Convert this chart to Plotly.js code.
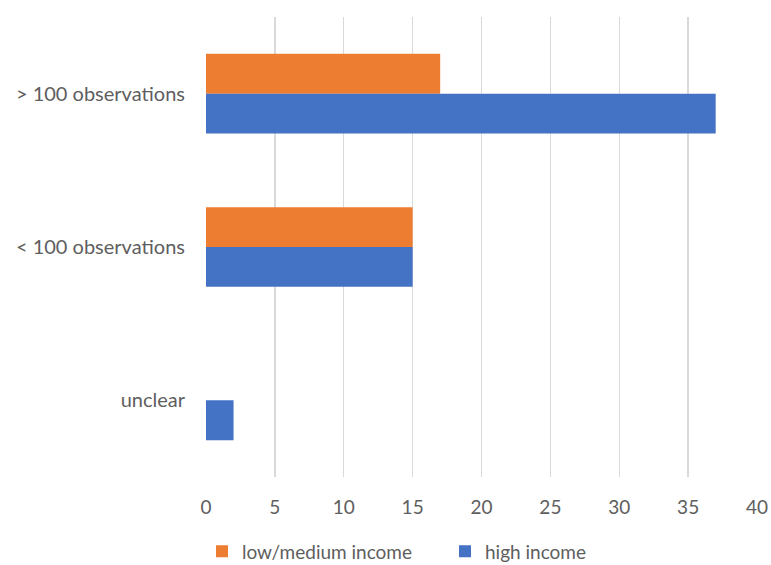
<!DOCTYPE html>
<html>
<head>
<meta charset="utf-8">
<script src="https://cdn.plot.ly/plotly-3.0.1.min.js"></script>
<style>
  html, body { margin: 0; padding: 0; background: #ffffff; }
  #chart { width: 771px; height: 565px; }
</style>
</head>
<body>
<div id="chart"></div>
<script>
// Study counts by number of observations, split by country income group
const categories = ['> 100 observations', '< 100 observations', 'unclear'];
const lowMediumIncome = [17, 15, 0];
const highIncome = [37, 15, 2];
const xTicks = [0, 5, 10, 15, 20, 25, 30, 35, 40];

const labelColor = '#5e5e5e';
const fontFamily = 'Lato, "Open Sans", sans-serif';

const traces = [
  {
    type: 'bar',
    orientation: 'h',
    name: 'low/medium income',
    y: categories,
    x: lowMediumIncome,
    marker: { color: '#ED7D31' },
    hoverinfo: 'x+name'
  },
  {
    type: 'bar',
    orientation: 'h',
    name: 'high income',
    y: categories,
    x: highIncome,
    marker: { color: '#4472C4' },
    hoverinfo: 'x+name'
  }
];

const layout = {
  width: 771,
  height: 565,
  margin: { l: 206, r: 14, t: 17, b: 88, autoexpand: false },
  paper_bgcolor: '#ffffff',
  plot_bgcolor: '#ffffff',
  font: { family: fontFamily, color: labelColor, size: 20 },
  barmode: 'group',
  bargap: 0.48,
  bargroupgap: 0,
  xaxis: {
    range: [0, 40],
    tickvals: xTicks,
    ticktext: xTicks.map(String),
    showgrid: true,
    gridcolor: '#d9d9d9',
    gridwidth: 1.3,
    zeroline: false,
    showline: false,
    ticks: '',
    ticklabelstandoff: 17,
    tickfont: { size: 19, color: labelColor, family: fontFamily }
  },
  yaxis: {
    type: 'category',
    categoryorder: 'array',
    categoryarray: categories,
    autorange: 'reversed',
    showgrid: false,
    zeroline: false,
    showline: false,
    ticks: '',
    ticklabelstandoff: 20,
    tickfont: { size: 20, color: labelColor, family: fontFamily }
  },
  showlegend: true,
  legend: {
    orientation: 'h',
    xref: 'container',
    x: 202 / 771,
    xanchor: 'left',
    yref: 'container',
    y: 0.024,
    yanchor: 'middle',
    font: { size: 19, color: labelColor, family: fontFamily },
    itemwidth: 30,
    entrywidth: 198,
    tracegroupgap: 0
  }
};

Plotly.newPlot('chart', traces, layout, { displayModeBar: false, staticPlot: true });
</script>
</body>
</html>
